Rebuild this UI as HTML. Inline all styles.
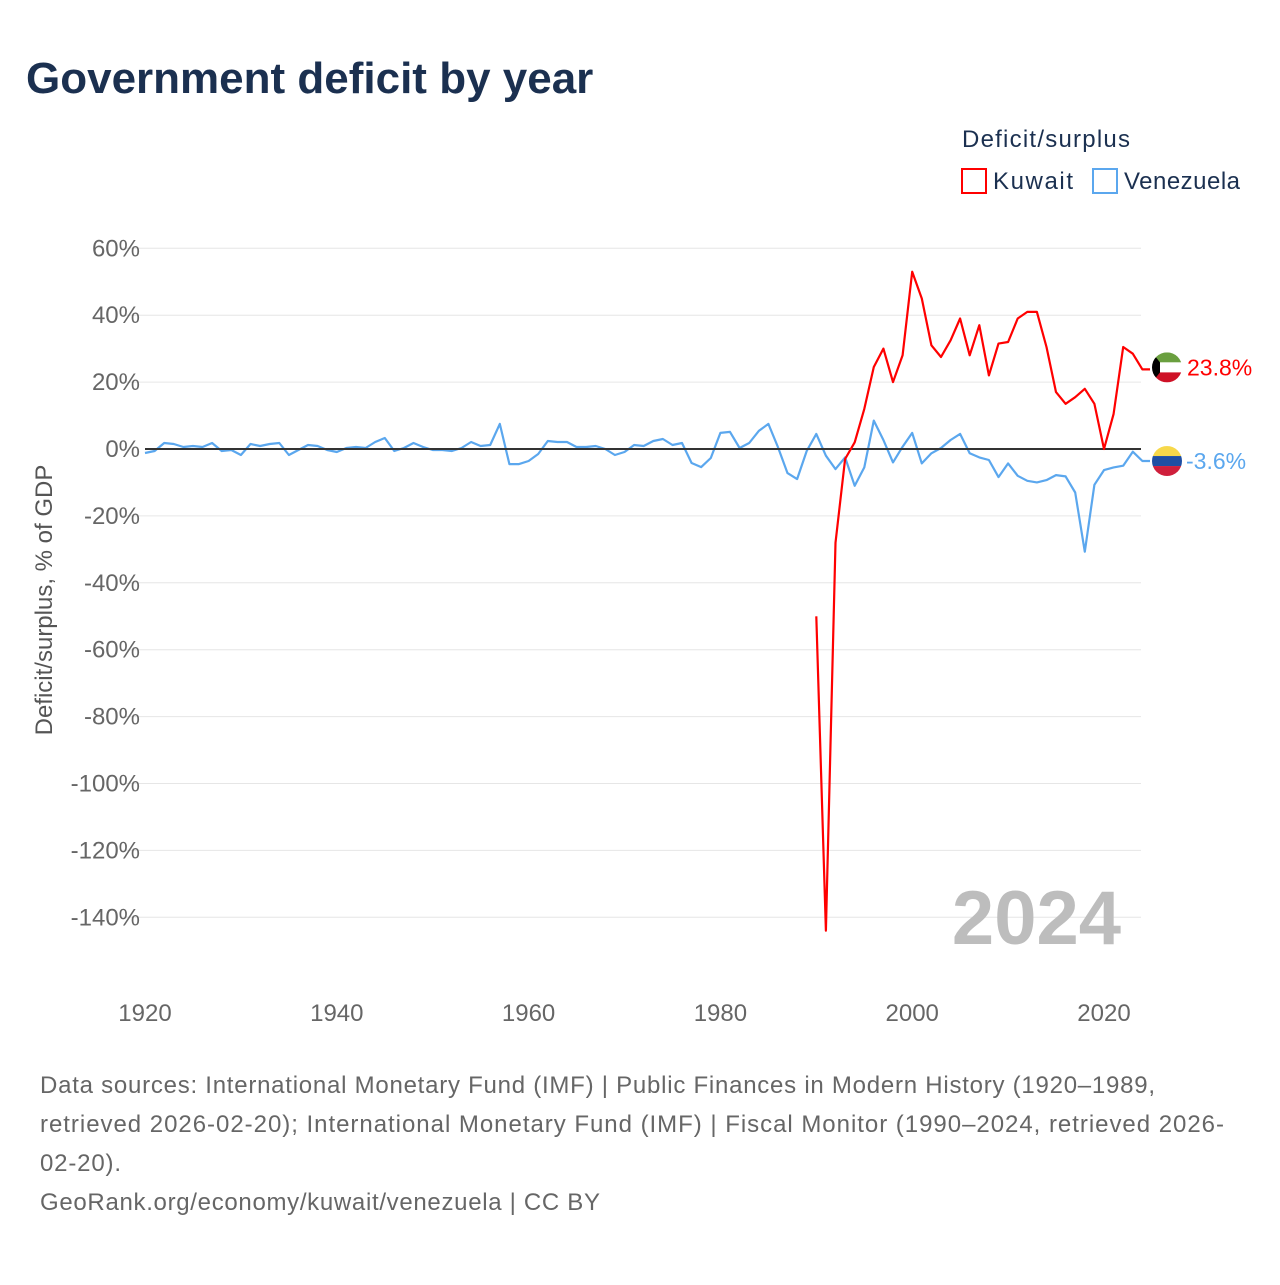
<!DOCTYPE html>
<html><head><meta charset="utf-8"><style>
body{margin:0;background:#fff;font-family:"Liberation Sans",sans-serif;}
</style></head><body>
<svg width="1280" height="1280" xmlns="http://www.w3.org/2000/svg" style="font-family:'Liberation Sans',sans-serif">
<text x="26" y="93" font-size="44" font-weight="bold" fill="#1b3050">Government deficit by year</text>
<text x="962" y="147" font-size="24" fill="#1b3050" textLength="168">Deficit/surplus</text>
<g><rect x="962" y="169" width="24" height="24" fill="none" stroke="#f00" stroke-width="2"/><text x="993" y="189" font-size="24" fill="#1b3050" textLength="80">Kuwait</text></g>
<g><rect x="1093" y="169" width="24" height="24" fill="none" stroke="#5ba7ee" stroke-width="2"/><text x="1124" y="189" font-size="24" fill="#1b3050" textLength="116">Venezuela</text></g>
<g id="grid"></g>
<g id="series"></g>
<text x="52" y="600" font-size="24" fill="#555" transform="rotate(-90 52 600)" text-anchor="middle">Deficit/surplus, % of GDP</text>
<text x="1121" y="944" font-size="76" font-weight="bold" fill="#bdbdbd" text-anchor="end">2024</text>
<g font-size="24" fill="#666">
<text x="40" y="1093" textLength="1115">Data sources: International Monetary Fund (IMF) | Public Finances in Modern History (1920–1989,</text>
<text x="40" y="1132" textLength="1184">retrieved 2026-02-20); International Monetary Fund (IMF) | Fiscal Monitor (1990–2024, retrieved 2026-</text>
<text x="40" y="1171" textLength="81">02-20).</text>
<text x="40" y="1210" textLength="560">GeoRank.org/economy/kuwait/venezuela | CC BY</text>
</g>
</svg>
<script>
const yTicks=[60,40,20,0,-20,-40,-60,-80,-100,-120,-140];
const xTicks=[1920,1940,1960,1980,2000,2020];
const kuwaitYears=[1990,1991,1992,1993,1994,1995,1996,1997,1998,1999,2000,2001,2002,2003,2004,2005,2006,2007,2008,2009,2010,2011,2012,2013,2014,2015,2016,2017,2018,2019,2020,2021,2022,2023,2024];
const kuwaitValues=[-50,-144,-28,-3,2,12,24.5,30,20,28,53,45,31,27.5,32.5,39,28,37,22,31.5,32,39,41,41,30.5,17,13.5,15.5,18,13.5,0,10.5,30.5,28.5,23.8];
const venStart=1920;
const venValues=[-1.2,-0.6,1.8,1.5,0.6,0.9,0.6,1.8,-0.6,-0.3,-1.8,1.5,0.9,1.5,1.8,-1.8,-0.3,1.2,0.9,-0.3,-0.9,0.3,0.6,0.3,2.1,3.3,-0.6,0.3,1.8,0.6,-0.3,-0.3,-0.6,0.3,2.1,0.9,1.2,7.5,-4.5,-4.5,-3.6,-1.5,2.4,2.1,2.1,0.6,0.6,0.9,0,-1.8,-0.9,1.2,0.9,2.4,3,1.2,1.8,-4.2,-5.4,-2.7,4.8,5.1,0.3,1.8,5.4,7.5,0.6,-7.2,-9,-0.6,4.5,-2,-6,-2.5,-11,-5.5,8.5,2.7,-4,0.7,4.8,-4.3,-1.3,0.3,2.7,4.5,-1.3,-2.5,-3.3,-8.4,-4.3,-8,-9.5,-10,-9.3,-7.8,-8.2,-13,-30.7,-10.7,-6.3,-5.5,-5,-0.8,-3.6];
const NS="http://www.w3.org/2000/svg";
const xs=y=>145+(y-1920)*9.59;
const ys=v=>449-v*3.345;
function mk(tag,attrs,parent){const e=document.createElementNS(NS,tag);for(const k in attrs)e.setAttribute(k,attrs[k]);parent.appendChild(e);return e;}
const grid=document.getElementById('grid'),ser=document.getElementById('series');
yTicks.forEach(t=>{if(t!==0){const l=mk('line',{x1:120,x2:1141,y1:ys(t),y2:ys(t),stroke:'#e6e6e6','stroke-width':1},grid);

}
const tx=mk('text',{x:140,y:ys(t)+8,'font-size':24,fill:'#666','text-anchor':'end'},grid);tx.textContent=t+'%';

});
xTicks.forEach(t=>{const tx=mk('text',{x:xs(t),y:1021,'font-size':24,fill:'#666','text-anchor':'middle'},grid);tx.textContent=t;

});
const vLast=venValues[venValues.length-1],kLast=kuwaitValues[kuwaitValues.length-1];
const vp=venValues.map((v,i)=>xs(venStart+i).toFixed(1)+','+ys(v).toFixed(1)).join(' ')+' 1150,'+ys(vLast).toFixed(1);
const vl=mk('polyline',{points:vp,fill:'none',stroke:'#5ba7ee','stroke-width':2.2,'stroke-linejoin':'round'},ser);


const zl=mk('line',{x1:145,x2:1141,y1:ys(0),y2:ys(0),stroke:'#333','stroke-width':2},ser);


const kp=kuwaitValues.map((v,i)=>xs(kuwaitYears[i]).toFixed(1)+','+ys(v).toFixed(1)).join(' ')+' 1150,'+ys(kLast).toFixed(1);
const kl=mk('polyline',{points:kp,fill:'none',stroke:'#f00','stroke-width':2.2,'stroke-linejoin':'round'},ser);


function flag(cy,colors,name){const g=mk('g',{},ser);

const id='c'+name;const cp=mk('clipPath',{id:id},g);mk('circle',{cx:1167,cy:cy,r:15},cp);
const gg=mk('g',{'clip-path':'url(#'+id+')'},g);colors.forEach((c,i)=>mk('rect',{x:1152,y:cy-15+i*10,width:30,height:10,fill:c},gg));return gg;}
const ky=ys(kLast)-2,vy=ys(vLast);
const kg=flag(ky,['#6a9f3f','#fff','#ce1126'],'kuwait-flag');mk('polygon',{points:`1152,${ky-15} 1160,${ky-5} 1160,${ky+5} 1152,${ky+15}`,fill:'#000'},kg);
flag(vy,['#f7d84a','#1f4fa3','#cf1f3c'],'venezuela-flag');
const kt=mk('text',{x:1187,y:ky+8,'font-size':23,fill:'#f00'},ser);kt.textContent=kLast.toFixed(1)+'%';


const vt=mk('text',{x:1186,y:vy+8,'font-size':23,fill:'#5ba7ee'},ser);vt.textContent=vLast.toFixed(1)+'%';


</script>
</body></html>
